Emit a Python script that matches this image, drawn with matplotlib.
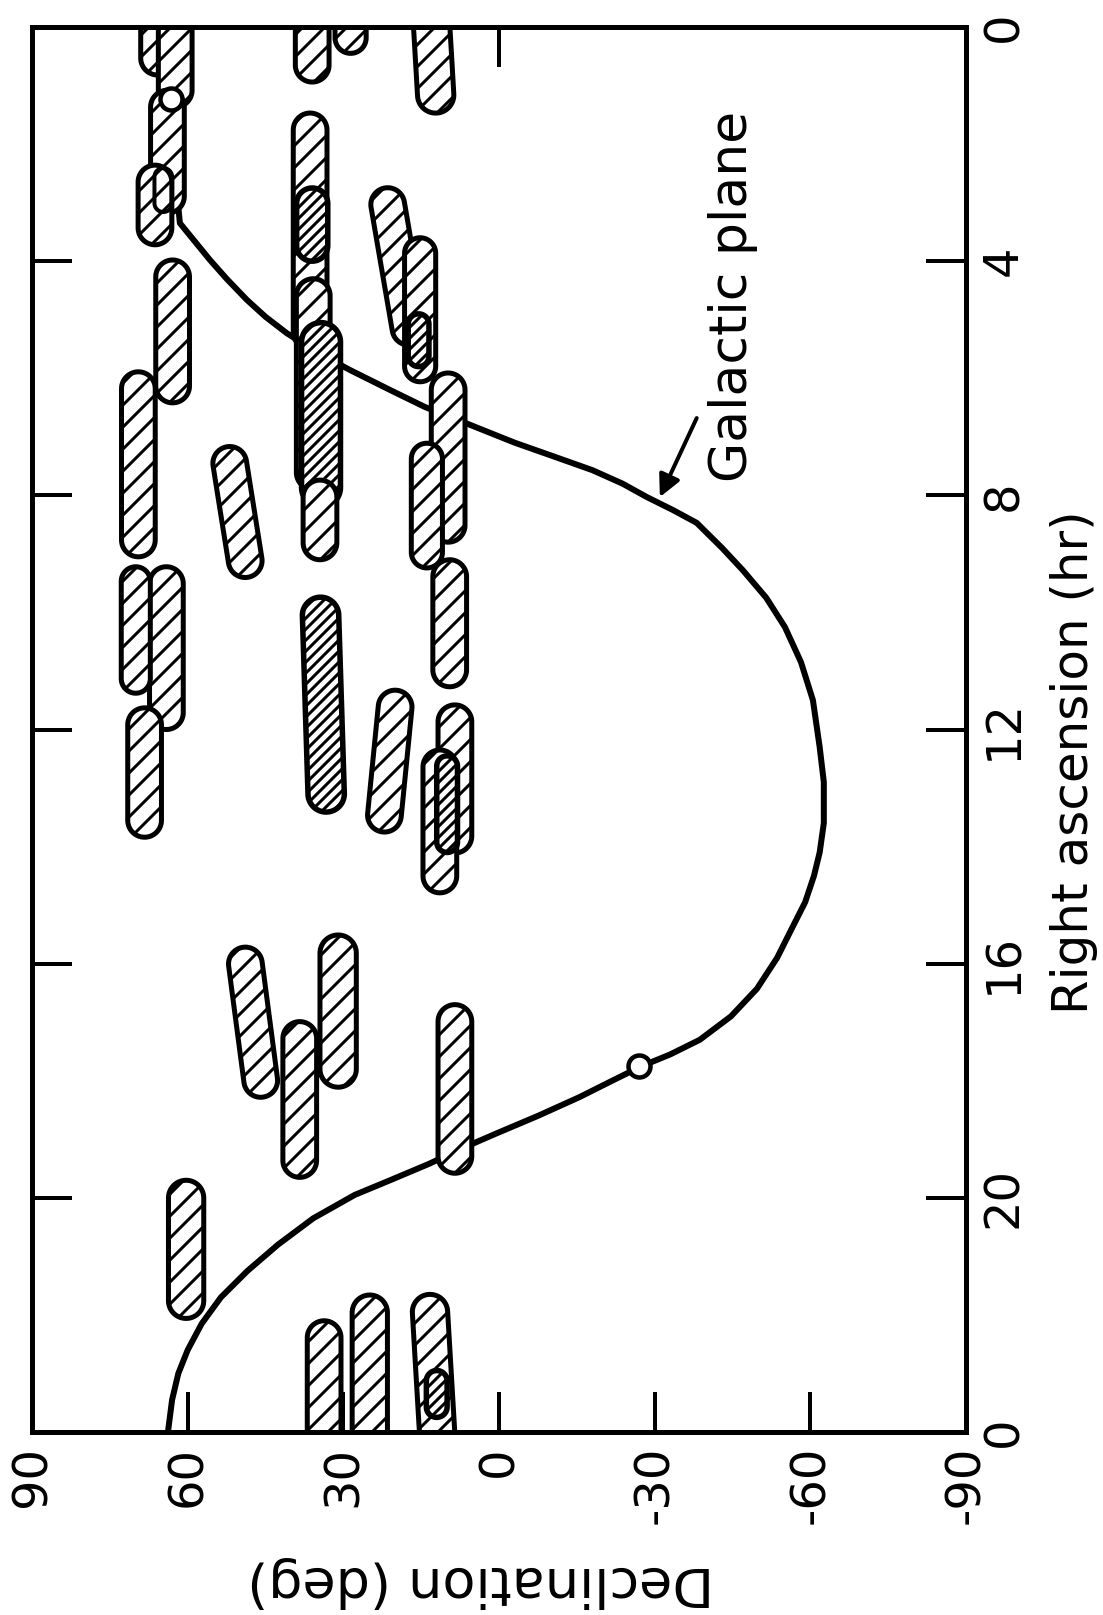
import numpy as np
import matplotlib
matplotlib.use("Agg")
import matplotlib.pyplot as plt
from matplotlib.patches import Polygon

DPI = 132


def pt(px):
    """pixel size -> points for this dpi"""
    return px * 72.0 / DPI


plt.rcParams['font.family'] = ['DejaVu Sans']
plt.rcParams['hatch.linewidth'] = pt(3.0)
plt.rcParams['hatch.color'] = 'black'

# ---------------- data ----------------
# Galactic plane: right ascension (hr) and declination (deg)
gal_ra = [0.0, 0.6, 1.2, 2.0, 2.8, 3.35, 3.98, 4.3, 4.66, 4.95, 5.23, 5.55, 5.86,
          6.2, 6.49, 6.71, 7.1, 7.35, 7.57, 7.8, 8.03, 8.25, 8.47, 8.9, 9.28,
          9.75, 10.25, 10.85, 11.5, 12.3, 12.9, 13.6, 14.1, 14.5, 14.95, 15.37,
          15.9, 16.43, 16.9, 17.3, 17.55, 17.75, 18.0, 18.28, 18.6, 18.9, 19.15,
          19.42, 19.7, 19.95, 20.35, 20.8, 21.25, 21.7, 22.15, 22.6, 23.0, 23.45, 24.0]
gal_dec = [63.8, 63.6, 63.2, 62.7, 62.1, 61.5, 55.7, 52.5, 48.6, 45.0, 40.9, 35.2, 28.7,
           21.0, 14.3, 8.0, -3.0, -11.0, -18.0, -23.8, -28.5, -33.5, -38.1, -43.0, -47.0,
           -51.5, -55.1, -58.2, -60.5, -61.8, -62.6, -62.6, -61.8, -60.7, -59.0, -56.6,
           -53.6, -49.7, -44.7, -38.7, -33.0, -27.5, -21.8, -15.5, -7.5, 0.5, 7.0,
           13.5, 21.0, 27.8, 35.8, 42.6, 48.5, 53.6, 57.3, 60.0, 61.8, 63.0, 63.8]

# open circles on the galactic plane
mark_ra = [1.23, 17.75]
mark_dec = [63.2, -27.0]

# source regions: RA extent (start, end), declination at start/end, declination width
bar_ra0 = [-0.5, -0.5, 1.08, 2.36, 2.41, 3.98, 5.89, 9.22, 9.22, 11.63, 7.17,
           -0.5, -0.5, -0.5, 1.47, 2.75, 4.3, 5.05, 7.74,
           2.75, 3.6, 4.9, 5.91, 7.11, 9.1, 9.74, 11.33, 11.58, 12.35, 12.45,
           15.72, 15.51, 16.99, 16.7, 19.7, 22.1, 21.66, 21.65, 22.95]
bar_ra1 = [0.82, 1.37, 3.18, 3.72, 3.16, 6.42, 9.05, 12.0, 11.38, 13.84, 9.40,
           0.94, 0.45, 1.47, 5.5, 4.0, 7.9, 8.2, 9.1,
           5.43, 6.06, 5.8, 8.8, 9.24, 11.27, 13.41, 13.75, 14.11, 14.79, 14.1,
           18.28, 18.11, 19.65, 19.58, 22.06, 24.5, 24.5, 24.5, 23.75]
bar_dec0 = [65.8, 62.4, 63.9, 66.3, 64.7, 62.9, 69.5, 64.1, 70.0, 68.3, 52.4,
            36.0, 28.6, 13.3, 36.4, 36.0, 35.8, 34.3, 34.5,
            22.0, 15.2, 15.5, 9.8, 13.9, 9.5, 34.5, 19.7, 8.5, 11.4, 10.0,
            49.3, 31.0, 38.4, 8.5, 60.3, 33.7, 24.9, 13.5, 12.0]
bar_dec1 = [65.8, 62.4, 63.9, 66.3, 64.7, 62.9, 69.5, 64.1, 70.0, 68.3, 48.4,
            36.0, 28.6, 12.0, 36.4, 36.0, 35.8, 34.3, 34.5,
            16.8, 15.2, 15.5, 9.8, 13.9, 9.5, 33.2, 22.4, 8.5, 11.4, 10.0,
            45.5, 31.0, 38.4, 8.5, 60.3, 33.7, 24.9, 11.6, 12.0]
bar_width = [6.5, 6.5, 6.5, 6.5, 3.4, 6.5, 6.5, 6.5, 5.6, 6.5, 6.5,
             6.5, 6.0, 7.0, 6.5, 6.0, 6.5, 7.5, 6.5,
             6.5, 6.0, 4.0, 6.5, 6.0, 6.5, 7.0, 6.5, 6.5, 6.5, 4.0,
             6.5, 7.0, 6.5, 6.5, 6.8, 6.5, 6.8, 6.8, 4.0]
# n = hatched, d = densely hatched, o = outline only
bar_kind = ['n', 'n', 'n', 'n', 'o', 'n', 'n', 'n', 'n', 'n', 'n',
            'n', 'n', 'n', 'n', 'd', 'n', 'd', 'n',
            'n', 'n', 'd', 'n', 'n', 'n', 'd', 'n', 'n', 'n', 'd',
            'n', 'n', 'n', 'n', 'n', 'n', 'n', 'n', 'd']

dec_ticks = [90, 60, 30, 0, -30, -60, -90]
dec_labels = ['90', '60', '30', '0', '-30', '-60', '-90']
ra_ticks = [0, 4, 8, 12, 16, 20, 24]
ra_labels = ['0', '4', '8', '12', '16', '20', '0']

# ---------------- figure ----------------
W, H = 1103, 1615
fig = plt.figure(figsize=(W / DPI, H / DPI), dpi=DPI)
L, R, T, B = 32, 966, 27, 1432
ax = fig.add_axes([L / W, 1 - B / H, (R - L) / W, (B - T) / H])
ax.set_xlim(90, -90)
ax.set_ylim(24, 0)


def capsule(ra0, ra1, d0, d1, wdeg, kind, z):
    tr = ax.transData
    p0 = tr.transform((d0, ra0))
    p1 = tr.transform((d1, ra1))
    pxdeg = abs(tr.transform((0, 0))[0] - tr.transform((1, 0))[0])
    r = wdeg * pxdeg / 2.0
    v = p1 - p0
    ln = np.hypot(*v)
    u = v / ln
    n = np.array([-u[1], u[0]])
    c0 = p0 + u * r
    c1 = p1 - u * r
    th = np.linspace(0, np.pi, 40)
    arc1 = [c1 + r * (np.cos(t) * n + np.sin(t) * u) for t in th]
    arc0 = [c0 + r * (-np.cos(t) * n - np.sin(t) * u) for t in th]
    pts = tr.inverted().transform(np.array(arc1 + arc0))
    if kind == 'n':
        kw = dict(facecolor='white', edgecolor='black', lw=pt(5), hatch='//')
    elif kind == 'd':
        kw = dict(facecolor='white', edgecolor='black', lw=pt(5.5), hatch='////')
    else:
        kw = dict(fill=False, edgecolor='black', lw=pt(4))
    ax.add_patch(Polygon(pts, closed=True, zorder=z, **kw))


# galactic plane
ax.plot(gal_dec, gal_ra, color='black', lw=pt(6), zorder=2,
        solid_capstyle='round', solid_joinstyle='round')

for i in range(len(bar_ra0)):
    capsule(bar_ra0[i], bar_ra1[i], bar_dec0[i], bar_dec1[i], bar_width[i],
            bar_kind[i], 3 + i * 0.01)

ax.plot(mark_dec, mark_ra, 'o', ms=pt(22), mfc='white', mec='black',
        mew=pt(4.5), zorder=6)

# annotation
ax.text(-45.1, 4.6, 'Galactic plane', rotation=90, ha='center', va='center',
        fontsize=pt(52), zorder=7)
ax.annotate('', xy=(-31.0, 8.03), xytext=(-38.1, 6.68),
            arrowprops=dict(arrowstyle='-|>', lw=pt(4), color='black',
                            mutation_scale=pt(46), shrinkA=0, shrinkB=0), zorder=7)

# axes styling
for s in ax.spines.values():
    s.set_linewidth(pt(5))
    s.set_zorder(10)

ax.set_xticks(dec_ticks)
ax.set_xticklabels(dec_labels, rotation=90)
ax.tick_params(axis='x', direction='in', length=pt(40), width=pt(4), pad=pt(14),
               labelsize=pt(48), bottom=True, top=False)
ax.set_yticks(ra_ticks)
ax.set_yticklabels(ra_labels, rotation=90, va='center')
ax.tick_params(axis='y', direction='in', length=pt(40), width=pt(4), pad=pt(14),
               labelsize=pt(48), left=True, right=True, labelleft=False, labelright=True)

sec = ax.secondary_xaxis('top')
sec.set_xticks([0])
sec.tick_params(direction='in', length=pt(40), width=pt(4), labeltop=False)
sec.spines['top'].set_visible(False)

ax.set_xlabel('Declination (deg)', rotation=180, fontsize=pt(54), ha='center', va='center')
ax.xaxis.set_label_coords(0.48, -0.107)
ax.set_ylabel('Right ascension (hr)', rotation=90, fontsize=pt(50), ha='center', va='center')
ax.yaxis.set_label_coords(1.116, 0.477)

fig.savefig('out.png', dpi=DPI, facecolor='white')
